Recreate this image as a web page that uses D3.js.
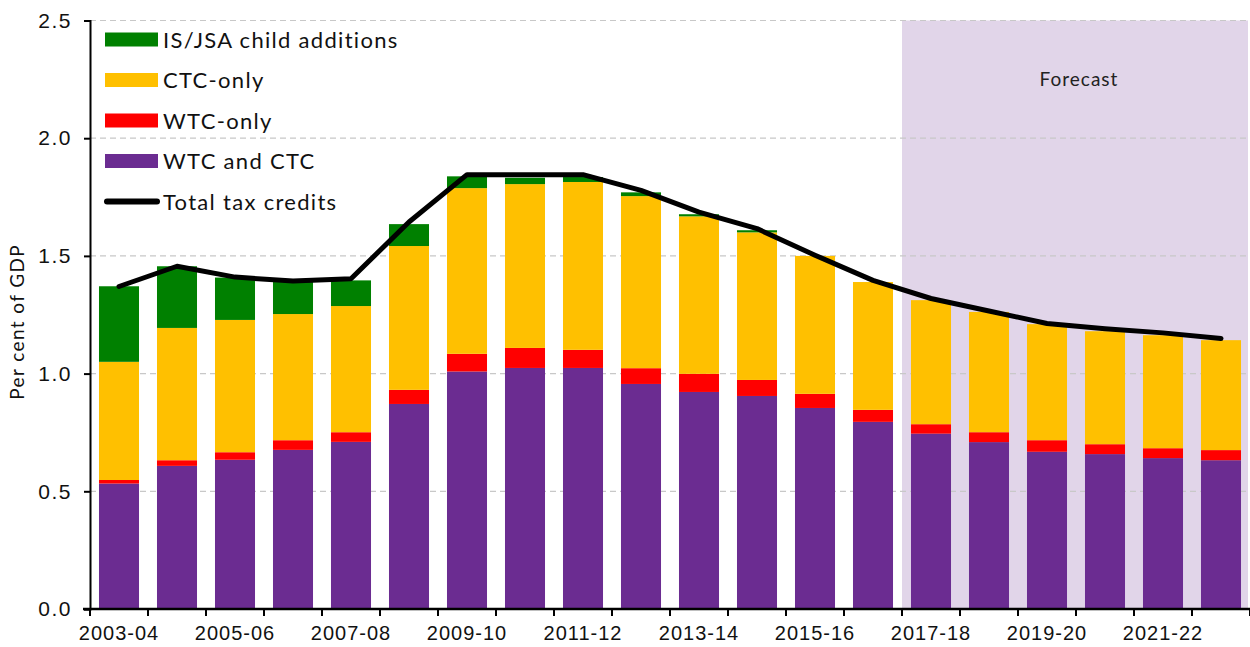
<!DOCTYPE html>
<html>
<head>
<meta charset="utf-8">
<script src="https://cdn.jsdelivr.net/npm/d3@7"></script>
<style>
  body { margin: 0; background: #fff; }
  svg { font-family: "Lato", "DejaVu Sans", sans-serif; }
</style>
</head>
<body>
<div id="chart"></div>
<script>
// chart data
var years = ["2003-04","2004-05","2005-06","2006-07","2007-08","2008-09","2009-10","2010-11","2011-12","2012-13",
             "2013-14","2014-15","2015-16","2016-17","2017-18","2018-19","2019-20","2020-21","2021-22","2022-23"];
var wtcAndCtc = [0.533,0.608,0.634,0.676,0.710,0.871,1.009,1.024,1.024,0.956,0.922,0.905,0.854,0.795,0.745,0.709,0.668,0.658,0.641,0.632];
var wtcOnly   = [0.015,0.024,0.032,0.041,0.041,0.060,0.075,0.085,0.077,0.067,0.077,0.068,0.060,0.051,0.040,0.042,0.049,0.042,0.042,0.043];
var ctcOnly   = [0.502,0.562,0.562,0.536,0.536,0.611,0.704,0.696,0.713,0.731,0.669,0.627,0.586,0.543,0.527,0.511,0.493,0.480,0.480,0.467];
var isjsa     = [0.321,0.262,0.180,0.136,0.109,0.093,0.050,0.027,0.021,0.016,0.009,0.009,0,0,0,0,0,0,0,0];
var totalTaxCredits = [1.370,1.456,1.410,1.393,1.403,1.644,1.845,1.845,1.845,1.778,1.686,1.616,1.503,1.396,1.319,1.266,1.213,1.191,1.173,1.149];
var yTicks = [0,0.5,1.0,1.5,2.0,2.5];
var forecastFrom = "2017-18";

var seriesNames = ["WTC and CTC","WTC-only","CTC-only","IS/JSA child additions"];
var seriesColors = {"WTC and CTC":"#6B2C91","WTC-only":"#FF0000","CTC-only":"#FFC000","IS/JSA child additions":"#008000"};
var seriesValues = {"WTC and CTC":wtcAndCtc,"WTC-only":wtcOnly,"CTC-only":ctcOnly,"IS/JSA child additions":isjsa};

var width = 1250, height = 647;
var margin = {top: 20.5, right: 0, bottom: 38, left: 90};

var svg = d3.select("#chart").append("svg")
   .attr("width",width).attr("height",height);

var x = d3.scaleBand().domain(years)
   .range([margin.left, width - margin.right])
   .paddingInner(0.31).paddingOuter(0.155);
var y = d3.scaleLinear().domain([0,2.5]).range([height - margin.bottom, margin.top]);
var step = x.step();
var x0 = margin.left;

// forecast shading
var fStart = x0 + years.indexOf(forecastFrom)*step;
svg.append("rect")
   .attr("x",fStart).attr("y",y(2.5))
   .attr("width",width - 2 - fStart).attr("height",y(0)-y(2.5))
   .attr("fill","#E1D5E9");
svg.append("text")
   .attr("x",(fStart + width - 2)/2 + 4).attr("y",86)
   .attr("text-anchor","middle")
   .style("font-size","19px").style("letter-spacing","1px").attr("fill","#222")
   .text("Forecast");

// grid lines
svg.append("g").selectAll("line").data(yTicks.filter(function(d){return d>0;})).enter()
   .append("line")
   .attr("x1",x0).attr("x2",width)
   .attr("y1",function(d){return y(d);}).attr("y2",function(d){return y(d);})
   .attr("stroke","#c8c8c8").attr("stroke-width",1.2)
   .attr("stroke-dasharray","6,4");

// stacked bars
var rows = years.map(function(yr,i){
   var r = {year: yr};
   seriesNames.forEach(function(s){ r[s] = seriesValues[s][i]; });
   return r;
});
var stack = d3.stack().keys(seriesNames)(rows);
svg.append("g").selectAll("g").data(stack).enter()
   .append("g").attr("fill",function(d){return seriesColors[d.key];})
   .selectAll("rect").data(function(d){return d;}).enter()
   .append("rect")
   .attr("x",function(d){return x(d.data.year);})
   .attr("width",x.bandwidth())
   .attr("y",function(d){return y(d[1]);})
   .attr("height",function(d){return Math.max(0,y(d[0])-y(d[1]));});

// total line
var line = d3.line()
   .x(function(d,i){return x(years[i]) + x.bandwidth()/2;})
   .y(function(d){return y(d);});
svg.append("path").datum(totalTaxCredits)
   .attr("d",line)
   .attr("fill","none").attr("stroke","#000")
   .attr("stroke-width",5).attr("stroke-linejoin","round").attr("stroke-linecap","round");

// y axis
var yAxis = svg.append("g").attr("transform","translate("+x0+",0)")
   .call(d3.axisLeft(y).tickValues(yTicks).tickFormat(d3.format(".1f")).tickSize(6).tickPadding(12));
yAxis.select(".domain").attr("stroke","#000").attr("stroke-width",2);
yAxis.selectAll(".tick line").attr("stroke","#000").attr("stroke-width",2);
yAxis.selectAll(".tick text").style("font-size","21px").style("letter-spacing","1.5px").attr("fill","#111");

// x axis: ticks at category boundaries, label every other year
var xAxis = svg.append("g").attr("transform","translate(0,"+y(0)+")")
   .call(d3.axisBottom(x).tickSize(0).tickPadding(17)
      .tickFormat(function(d,i){return i%2===0 ? d : "";}));
xAxis.select(".domain").remove();
xAxis.selectAll(".tick text").style("font-size","20px").style("letter-spacing","1px").attr("fill","#111");
svg.append("line")
   .attr("x1",x0-7).attr("x2",width)
   .attr("y1",y(0)).attr("y2",y(0))
   .attr("stroke","#000").attr("stroke-width",2.5);
svg.append("g").selectAll("line").data(d3.range(years.length+1)).enter()
   .append("line")
   .attr("x1",function(i){return x0 + i*step;}).attr("x2",function(i){return x0 + i*step;})
   .attr("y1",y(0)).attr("y2",y(0)+7)
   .attr("stroke","#000").attr("stroke-width",2);

// y label
svg.append("text")
   .attr("transform","translate(24,"+(y(1.22))+") rotate(-90)")
   .attr("text-anchor","middle")
   .style("font-size","19px").style("letter-spacing","1.4px").attr("fill","#111")
   .text("Per cent of GDP");

// legend
var legendItems = ["IS/JSA child additions","CTC-only","WTC-only","WTC and CTC","Total tax credits"];
var lg = svg.append("g").selectAll("g").data(legendItems).enter()
   .append("g").attr("transform",function(d,i){return "translate(104,"+(39.5 + i*40.5)+")";});
lg.each(function(d){
   var g = d3.select(this);
   if (d === "Total tax credits") {
      g.append("line").attr("x1",3).attr("x2",53).attr("y1",0).attr("y2",0)
         .attr("stroke","#000").attr("stroke-width",6).attr("stroke-linecap","round");
   } else {
      g.append("rect").attr("x",1).attr("y",-7).attr("width",53).attr("height",14)
         .attr("fill",seriesColors[d]);
   }
   g.append("text").attr("x",59).attr("y",8)
      .style("font-size","22px").style("letter-spacing","1.3px").attr("fill","#111")
      .text(d);
});
</script>
</body>
</html>
